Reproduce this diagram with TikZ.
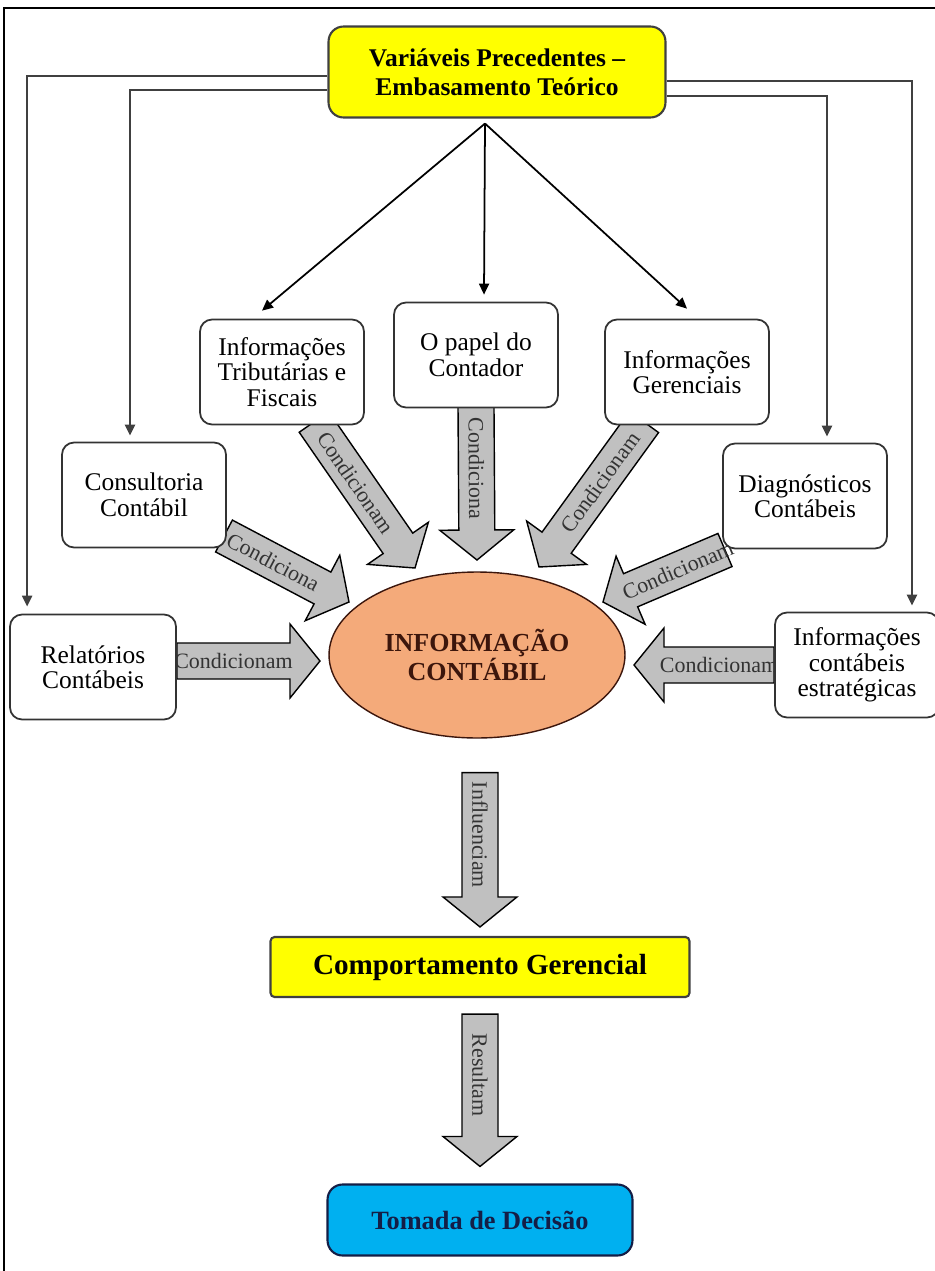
\documentclass[tikz,border=0pt]{standalone}
\usepackage{fontspec}
\setmainfont{Liberation Serif}
\usetikzlibrary{calc}
\usetikzlibrary{shapes.geometric}
\usetikzlibrary{arrows.meta}
\usetikzlibrary{backgrounds}

\definecolor{titleyellow}{RGB}{255,255,0}
\definecolor{decblue}{RGB}{0,176,240}
\definecolor{infoorange}{RGB}{244,170,122}
\definecolor{arrowgrey}{RGB}{192,192,192}
\definecolor{navytext}{RGB}{20,30,70}
\definecolor{browntext}{RGB}{60,22,12}

\tikzset{box/.style={draw=black!80,line width=1pt,fill=white,rounded corners=0.24cm,minimum width=3.28cm,minimum height=2.1cm,align=center,inner sep=2pt,font=\fontsize{14.5}{14.5}\selectfont}}
\tikzset{titlebox/.style={draw=black!75,line width=1.2pt,fill=titleyellow,align=center,font=\fontsize{14.5}{16.5}\selectfont\bfseries}}
\tikzset{arrowfill/.style={fill=arrowgrey,draw=black,line width=0.8pt,line join=miter}}
\tikzset{arrowlabel/.style={font=\fontsize{12.5}{12.5}\selectfont,text=black!80,inner sep=0pt}}
\tikzset{thinarrow/.style={draw=black,line width=1pt,-{Triangle[length=0.22cm,width=0.2cm]}}}
\tikzset{elbow/.style={draw=black!75,line width=1.3pt,-{Triangle[length=0.22cm,width=0.2cm]}}}

% grey block arrow between two named points
\newcommand{\blockarrow}[3]{%
  \coordinate (bahead) at ($(#2)!0.6cm!(#1)$);
  \filldraw[arrowfill] ($(#1)!0.36cm!90:(#2)$) -- ($(bahead)!0.36cm!-90:(#1)$)
    -- ($(bahead)!0.74cm!-90:(#1)$) -- (#2) -- ($(bahead)!0.74cm!90:(#1)$)
    -- ($(bahead)!0.36cm!90:(#1)$) -- ($(#1)!0.36cm!-90:(#2)$) -- cycle;
  \path (#1) -- (bahead) node[midway,sloped,arrowlabel] {#3};
}

\begin{document}
\begin{tikzpicture}[x=0.02cm,y=-0.02cm]
      \useasboundingbox (0,0) rectangle (934,1271);
      \draw[line width=1.2pt] (4,8) rectangle (950,1290);

      \node[titlebox,rounded corners=0.3cm,minimum width=6.74cm,minimum height=1.82cm] (top) at (497,72) {Variáveis Precedentes –\\Embasamento Teórico};

      \node[box] (trib) at (282,372) {Informações\\Tributárias e\\Fiscais};
      \node[box] (papel) at (476,355) {O papel do\\Contador};
      \node[box] (ger) at (687,372) {Informações\\Gerenciais};
      \node[box] (cons) at (144,495) {Consultoria\\Contábil};
      \node[box] (diag) at (805,496) {Diagnósticos\\Contábeis};
      \node[box,minimum width=3.32cm] (rel) at (93,667) {Relatórios\\Contábeis};
      \node[box] (estr) at (857,665) {Informações\\contábeis\\estratégicas};

      \node[ellipse,draw=browntext,line width=0.8pt,fill=infoorange,minimum width=5.92cm,minimum height=3.32cm,inner sep=0pt,align=center,text=browntext,font=\fontsize{14.8}{14.5}\selectfont\bfseries] (info) at (477,655) {INFORMAÇÃO\\CONTÁBIL};

      \node[titlebox,rounded corners=0.08cm,minimum width=8.38cm,minimum height=1.2cm,font=\fontsize{16.6}{16.6}\selectfont\bfseries] (comp) at (480,967) {Comportamento Gerencial};
      \node[titlebox,fill=decblue,draw=navytext,rounded corners=0.3cm,minimum width=6.1cm,minimum height=1.42cm,text=navytext,font=\fontsize{15}{15}\selectfont\bfseries] (tom) at (480,1220) {Tomada de Decisão};

      % thin arrows from the top box
      \coordinate (hub) at ($(top.south)+(-12,5)$);
      \draw[thinarrow] (hub) -- ($(trib.north)+(-20,-8)$);
      \draw[thinarrow] (hub) -- ($(papel.north)+(8,-7)$);
      \draw[thinarrow] (hub) -- ($(ger.north)+(0,-10)$);

      \coordinate (l1) at ($(rel.north west)+(18,-7)$);
      \coordinate (l2) at ($(cons.north)+(-14,-6)$);
      \coordinate (r1) at ($(estr.north)+(55,-6)$);
      \coordinate (r2) at ($(diag.north)+(22,-6)$);
      \draw[elbow] ($(top.west)+(0,4)$) -| (l1);
      \draw[elbow] ($(top.west)+(0,18)$) -| (l2);
      \draw[elbow] ($(top.east)+(0,9)$) -| (r1);
      \draw[elbow] ($(top.east)+(0,24)$) -| (r2);

      % block arrows
      \coordinate (s1) at ($(trib)+(32,50)$);   \coordinate (t1) at ($(info)+(-62,-87)$);
      \coordinate (s2) at ($(papel)+(0,52)$);   \coordinate (t2) at ($(info)+(0,-95)$);
      \coordinate (s3) at ($(ger)+(-43,50)$);   \coordinate (t3) at ($(info)+(62,-88)$);
      \coordinate (s4) at ($(cons)+(80,41)$);   \coordinate (t4) at ($(info)+(-128,-53)$);
      \coordinate (s5) at ($(diag)+(-80,54)$);  \coordinate (t5) at ($(info)+(126,-53)$);
      \coordinate (s6) at ($(rel.east)+(0,-6)$); \coordinate (t6) at ($(info)+(-157,6)$);
      \coordinate (s7) at (estr.west);          \coordinate (t7) at ($(info)+(157,10)$);
      \coordinate (s8) at ($(info.south)+(3,34)$); \coordinate (t8) at ($(comp.north)+(0,-9)$);
      \coordinate (s9) at ($(comp.south)+(0,16)$); \coordinate (t9) at ($(tom.north)+(0,-17)$);

      \begin{scope}[on background layer]
      \blockarrow{s1}{t1}{Condicionam}
      \blockarrow{s2}{t2}{Condiciona}
      \blockarrow{s3}{t3}{Condicionam}
      \blockarrow{s4}{t4}{Condiciona}
      \blockarrow{s5}{t5}{Condicionam}
      \blockarrow{s6}{t6}{Condicionam}
      \blockarrow{s7}{t7}{Condicionam}
      \blockarrow{s8}{t8}{Influenciam}
      \blockarrow{s9}{t9}{Resultam}
      \end{scope}
\end{tikzpicture}
\end{document}
